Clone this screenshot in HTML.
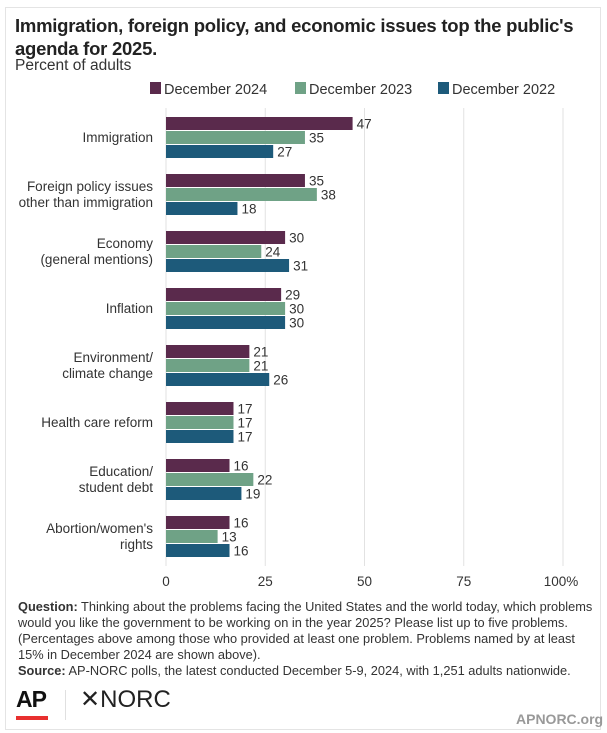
<!DOCTYPE html>
<html><head><meta charset="utf-8"><style>
body{margin:0;background:#fff;font-family:"Liberation Sans",sans-serif;}
#card{position:absolute;left:5px;top:7px;width:594px;height:721px;border:1px solid #e4e4e4;background:#fff;}
.t{position:absolute;white-space:nowrap;color:#222;}
</style></head><body>
<div id="card"></div>
<div class="t" style="left:15px;top:14px;font-size:18.5px;font-weight:bold;line-height:23px;color:#222;letter-spacing:-0.25px">Immigration, foreign policy, and economic issues top the public's<br>agenda for 2025.</div>
<div class="t" style="left:15px;top:57px;font-size:15.5px;color:#333">Percent of adults</div>
<svg id="chart" width="607" height="600" style="position:absolute;left:0;top:0"></svg>
<div class="t" style="left:18px;top:599px;font-size:12.8px;line-height:16px;color:#333">
<b>Question:</b> Thinking about the problems facing the United States and the world today, which problems<br>would you like the government to be working on in the year 2025? Please list up to five problems.<br>(Percentages above among those who provided at least one problem. Problems named by at least<br>15% in December 2024 are shown above).<br><b>Source:</b> AP-NORC polls, the latest conducted December 5-9, 2024, with 1,251 adults nationwide.</div>
<div class="t" style="left:16px;top:686px;font-size:23px;font-weight:bold;color:#111;letter-spacing:-1px">AP</div>
<div style="position:absolute;left:16px;top:716px;width:32px;height:4px;background:#e8302f"></div>
<div style="position:absolute;left:65px;top:690px;width:1px;height:30px;background:#e0e0e0"></div>
<div class="t" style="left:80px;top:685px;font-size:24px;color:#222">✕NORC</div>
<div class="t" style="left:516px;top:711px;font-size:14px;font-weight:bold;color:#999">APNORC.org</div>
<script>
const categories=[["Immigration"],["Foreign policy issues","other than immigration"],["Economy","(general mentions)"],["Inflation"],["Environment/","climate change"],["Health care reform"],["Education/","student debt"],["Abortion/women's","rights"]];
const dec2024=[47,35,30,29,21,17,16,16];
const dec2023=[35,38,24,30,21,17,22,13];
const dec2022=[27,18,31,30,26,17,19,16];
const ticks=[0,25,50,75,100];
const tickLabels=["0","25","50","75","100%"];
const seriesNames=["December 2024","December 2023","December 2022"];
const colors=["#5a2a4c","#6fa286","#1d5a7a"];
const NS="http://www.w3.org/2000/svg";
const svg=document.getElementById('chart');
const x=v=>166+v*3.97;
const gy=i=>117+i*57;
function mk(t,a){const e=document.createElementNS(NS,t);for(const k in a)e.setAttribute(k,a[k]);svg.appendChild(e);return e;}
ticks.forEach((t,i)=>{
 const l=mk('line',{x1:x(t),x2:x(t),y1:108,y2:566,stroke:'#e2e2e2','stroke-width':1});
 
 
 const tx=mk('text',{x:x(t)+(i==4?-2:0),y:586,'text-anchor':'middle','font-size':13.5,fill:'#333','font-family':'Liberation Sans'});
 tx.textContent=tickLabels[i];
 
 
});
const series=[dec2024,dec2023,dec2022];
categories.forEach((c,i)=>{
 series.forEach((s,j)=>{
  const y=gy(i)+j*14;
  const r=mk('rect',{x:x(0),y:y,width:x(s[i])-x(0),height:13,fill:colors[j]});
  
  
  const v=mk('text',{x:x(s[i])+4,y:y+11.5,'font-size':13.5,fill:'#333','font-family':'Liberation Sans'});
  v.textContent=s[i];
  
  
 });
 const cy=gy(i)+20;
 c.forEach((ln,k)=>{
  const t=mk('text',{x:153,y:cy+5+(k-(c.length-1)/2)*16,'text-anchor':'end','font-size':13.5,fill:'#333','font-family':'Liberation Sans'});
  t.textContent=ln;
  
  
 });
});
const lx=[150,295,438];
seriesNames.forEach((n,j)=>{
 const r=mk('rect',{x:lx[j],y:82,width:11,height:12,fill:colors[j]});
 
 
 const t=mk('text',{x:lx[j]+14,y:94,'font-size':14.5,fill:'#333','font-family':'Liberation Sans'});
 t.textContent=n;
 
 
});
</script>
</body></html>
